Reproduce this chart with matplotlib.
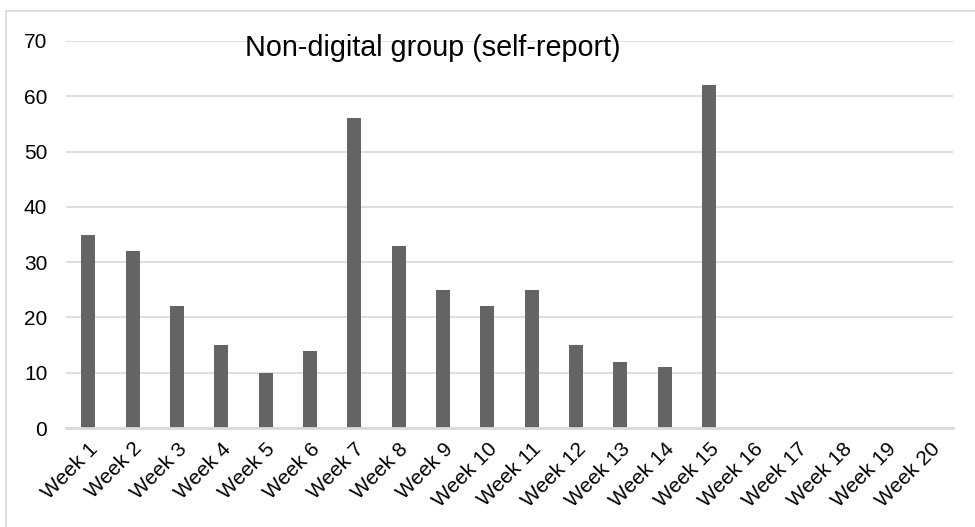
import matplotlib
matplotlib.use("Agg")
import matplotlib.pyplot as plt
from matplotlib.patches import Rectangle

categories = [f"Week {i}" for i in range(1, 21)]
values = [35, 32, 22, 15, 10, 14, 56, 33, 25, 22, 25, 15, 12, 11, 62, 0, 0, 0, 0, 0]
yticks = [0, 10, 20, 30, 40, 50, 60, 70]
title = "Non-digital group (self-report)"

plt.rcParams['font.family'] = ['Liberation Sans', 'DejaVu Sans']

W, H = 975, 527
fig = plt.figure(figsize=(W / 100, H / 100), dpi=100)
left, right, top, bottom = 66, 953, 41, 428
ax = fig.add_axes([left / W, 1 - bottom / H, (right - left) / W, (bottom - top) / H])

x = list(range(len(categories)))
ax.bar(x, values, width=0.315, color="#646464", zorder=3)
ax.set_xlim(-0.5, len(categories) - 0.5)
ax.set_ylim(0, 70)
ax.set_yticks(yticks)
ax.set_yticklabels([str(t) for t in yticks], fontsize=15)
ax.set_xticks(x)
ax.set_xticklabels(categories, rotation=45, ha="right", rotation_mode="anchor", fontsize=15)
ax.tick_params(axis="y", length=0, pad=13.5)
ax.tick_params(axis="x", length=0, pad=8)
ax.grid(axis="y", color="#d9d9d9", linewidth=1.2, zorder=0)
for s in ["top", "right", "left"]:
    ax.spines[s].set_visible(False)
ax.spines["bottom"].set_color("#d9d9d9")
ax.spines["bottom"].set_linewidth(2)
ax.spines["bottom"].set_zorder(4)

fig.text(433 / W, 1 - 48 / H, title, ha="center", va="center", fontsize=20.7)

fig.patches.append(Rectangle((6 / W, -0.1), 1.2, 1 - 11 / H + 0.1, transform=fig.transFigure,
                             fill=False, edgecolor="#d9d9d9", linewidth=1.2))

fig.savefig("out.png", dpi=100)
